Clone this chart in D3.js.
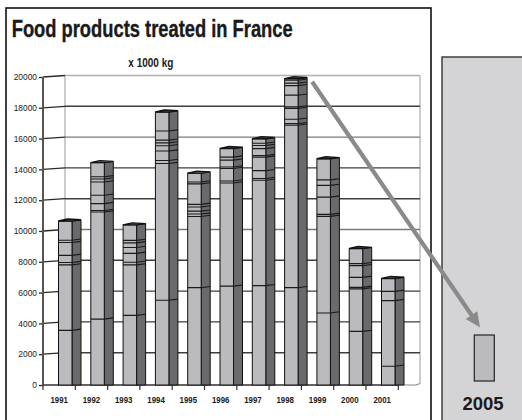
<!DOCTYPE html>
<html><head><meta charset="utf-8">
<script src="https://cdn.jsdelivr.net/npm/d3@7"></script>
<style>body{margin:0;background:#fff} svg{display:block}</style>
</head><body>
<svg id="c" width="522" height="420"></svg>
<script>
// ---------- data ----------
const years = ["1991","1992","1993","1994","1995","1996","1997","1998","1999","2000","2001"];
const totals = [10650, 14440, 10400, 17730, 13760, 15360, 15990, 19890, 14690, 8860, 6920];
// cumulative positions of the stacked-segment dividers inside each bar
const dividers = [
  [3550, 7800, 7950, 8420, 9250, 9400],
  [4280, 11230, 11330, 11780, 12320, 13180, 13380, 13520],
  [4520, 7800, 7970, 8550, 8930, 9230, 9390],
  [5500, 14380, 14580, 15190, 15540, 15720, 15900, 16490],
  [6320, 10940, 11100, 11290, 11560, 11730, 13060, 13180],
  [6420, 13120, 13250, 14060, 14160, 14600, 14800],
  [6450, 13300, 13410, 13920, 14800, 14900, 15350, 15550, 15700],
  [6320, 16870, 16970, 17260, 17960, 18060, 18820, 19440, 19600, 19790],
  [4680, 10950, 11080, 12200, 12960, 13320],
  [3480, 6240, 6340, 6990, 7750, 7880],
  [1220, 5480, 6080]
];
const yTicks = [0, 2000, 4000, 6000, 8000, 10000, 12000, 14000, 16000, 18000, 20000];
const titleText = "Food products treated in France";
const unitText = "x 1000 kg";
const futureLabel = "2005";

// ---------- setup ----------
const svg = d3.select("#c");
const FONT = "'Liberation Sans', Arial, sans-serif";

// panels
svg.append("rect").attr("x", 6).attr("y", 8).attr("width", 425).attr("height", 430)
  .attr("fill", "#fff").attr("stroke", "#111").attr("stroke-width", 1.6);
svg.append("rect").attr("x", 442).attr("y", 57).attr("width", 100).attr("height", 380)
  .attr("fill", "#d4d4d6").attr("stroke", "#333").attr("stroke-width", 1.4);

const x = d3.scaleBand().domain(years).range([43, 398.3]).padding(0);
const y = d3.scaleLinear().domain([0, 20000]).range([385, 77]);
const wallX0 = 65, wallX1 = 420, wallDy = -1.5;

// back wall
const wall = svg.append("g");
wall.append("line").attr("x1", wallX0).attr("x2", wallX0)
  .attr("y1", y(20000) + wallDy).attr("y2", y(0) + wallDy).attr("stroke", "#aaa").attr("stroke-width", 1.2);
wall.append("line").attr("x1", wallX1).attr("x2", wallX1)
  .attr("y1", y(20000) + wallDy).attr("y2", y(0) + wallDy).attr("stroke", "#aaa").attr("stroke-width", 1.2);
const gridColor = v => v === 20000 ? "#b0b0b0" : (v === 10000 || v === 16000 ? "#7a7a7a" : "#3e3e3e");
yTicks.filter(v => v > 0).forEach(v => {
  wall.append("line").attr("x1", wallX0).attr("x2", wallX1)
    .attr("y1", y(v) + wallDy).attr("y2", y(v) + wallDy)
    .attr("stroke", gridColor(v)).attr("stroke-width", 1.4);
  wall.append("line").attr("x1", 43).attr("x2", wallX0)
    .attr("y1", y(v)).attr("y2", y(v) + wallDy)
    .attr("stroke", "#2a2a2a").attr("stroke-width", 1.3);
});
// floor line
svg.append("path")
  .attr("d", `M43,${y(0)}L${wallX1 - 4},${y(0)}L${wallX1},${y(0) + wallDy}`)
  .attr("fill", "none").attr("stroke", "#888").attr("stroke-width", 1.2);

// y axis
const yAxis = svg.append("g").attr("transform", "translate(43,0)")
  .call(d3.axisLeft(y).tickValues(yTicks).tickSize(4).tickPadding(2).tickFormat(d3.format("d")));
yAxis.select(".domain").remove();
yAxis.selectAll(".tick line").attr("stroke", "#2a2a2a").attr("stroke-width", 1.3);
yAxis.selectAll(".tick text").attr("font-family", FONT).attr("font-size", 8.4).attr("fill", "#1a1a1a");
svg.append("line").attr("x1", 43).attr("x2", 43).attr("y1", y(20000)).attr("y2", y(0) + 1)
  .attr("stroke", "#555").attr("stroke-width", 2);
svg.append("line").attr("x1", 43).attr("x2", 398.3).attr("y1", y(0)).attr("y2", y(0))
  .attr("stroke", "#444").attr("stroke-width", 1.6);

// x axis ticks and labels
const step = x.step();
d3.range(0, years.length + 1).forEach(k => {
  svg.append("line").attr("x1", 43 + step * k).attr("x2", 43 + step * k)
    .attr("y1", y(0)).attr("y2", y(0) + 5).attr("stroke", "#333").attr("stroke-width", 1.2);
});
svg.append("g").selectAll("text").data(years).join("text")
  .attr("x", d => x(d) + step / 2).attr("y", 402.5)
  .attr("text-anchor", "middle").attr("font-family", FONT).attr("font-weight", "bold")
  .attr("font-size", 9.4).attr("fill", "#1a1a1a")
  .attr("textLength", 17.5).attr("lengthAdjust", "spacingAndGlyphs")
  .text(d => d);

// bars
const fw = 13.5, sd = 9, sdy = -1.2, off = 15.5;
const bars = svg.append("g");
years.forEach((yr, i) => {
  const x0 = x(yr) + off, x1 = x0 + fw, x2 = x1 + sd;
  const yt = y(totals[i]), yb = y(0);
  const g = bars.append("g");
  g.append("path").attr("d", `M${x1},${yb}L${x1},${yt}L${x2},${yt + sdy}L${x2},${yb}Z`)
    .attr("fill", "#6a6a6c").attr("stroke", "#111").attr("stroke-width", 1);
  g.append("rect").attr("x", x0).attr("y", yt).attr("width", fw).attr("height", yb - yt)
    .attr("fill", "#bbbbbf").attr("stroke", "#111").attr("stroke-width", 1);
  g.append("path").attr("d", `M${x0},${yt}L${x1},${yt}L${x2},${yt + sdy}L${x0 + sd},${yt + sdy - 0.8}Z`)
    .attr("fill", "#888").attr("stroke", "#111").attr("stroke-width", 1.4);
  dividers[i].forEach(v => {
    const yy = y(v);
    g.append("path").attr("d", `M${x0},${yy}L${x1},${yy}L${x2},${yy + sdy}`)
      .attr("fill", "none").attr("stroke", "#1a1a1a").attr("stroke-width", 1.1);
  });
});

// titles
svg.append("text").attr("x", 11.7).attr("y", 37.3)
  .attr("font-family", FONT).attr("font-weight", "bold").attr("font-size", 23).attr("fill", "#1a1a1a")
  .attr("stroke", "#1a1a1a").attr("stroke-width", 0.35)
  .attr("textLength", 281).attr("lengthAdjust", "spacingAndGlyphs").text(titleText);
svg.append("text").attr("x", 128.3).attr("y", 66.6)
  .attr("font-family", FONT).attr("font-weight", "bold").attr("font-size", 12).attr("fill", "#1a1a1a")
  .attr("textLength", 45).attr("lengthAdjust", "spacingAndGlyphs").text(unitText);

// arrow from the 1998 peak to the 2005 box
const i98 = years.indexOf("1998");
const ax0 = x(years[i98]) + off + fw + sd + 5, ay0 = y(totals[i98]) + 3;
const ax1 = 480, ay1 = 327.5;
const ang = Math.atan2(ay1 - ay0, ax1 - ax0);
const hl = 15, hw = 7;
const bx = ax1 - hl * Math.cos(ang), by = ay1 - hl * Math.sin(ang);
svg.append("line").attr("x1", ax0).attr("y1", ay0).attr("x2", bx + 2 * Math.cos(ang)).attr("y2", by + 2 * Math.sin(ang))
  .attr("stroke", "#8a8a8a").attr("stroke-width", 4.2);
svg.append("path")
  .attr("d", `M${ax1},${ay1}L${bx + hw * Math.sin(ang)},${by - hw * Math.cos(ang)}L${bx - hw * Math.sin(ang)},${by + hw * Math.cos(ang)}Z`)
  .attr("fill", "#8a8a8a");

// 2005 box
svg.append("rect").attr("x", 474.3).attr("y", 335).attr("width", 20).attr("height", 46)
  .attr("fill", "#bbbbbf").attr("stroke", "#222").attr("stroke-width", 1.2);
svg.append("text").attr("x", 483).attr("y", 410).attr("text-anchor", "middle")
  .attr("font-family", FONT).attr("font-weight", "bold").attr("font-size", 18.5).attr("fill", "#1a1a1a")
  .text(futureLabel);
</script>
</body></html>
